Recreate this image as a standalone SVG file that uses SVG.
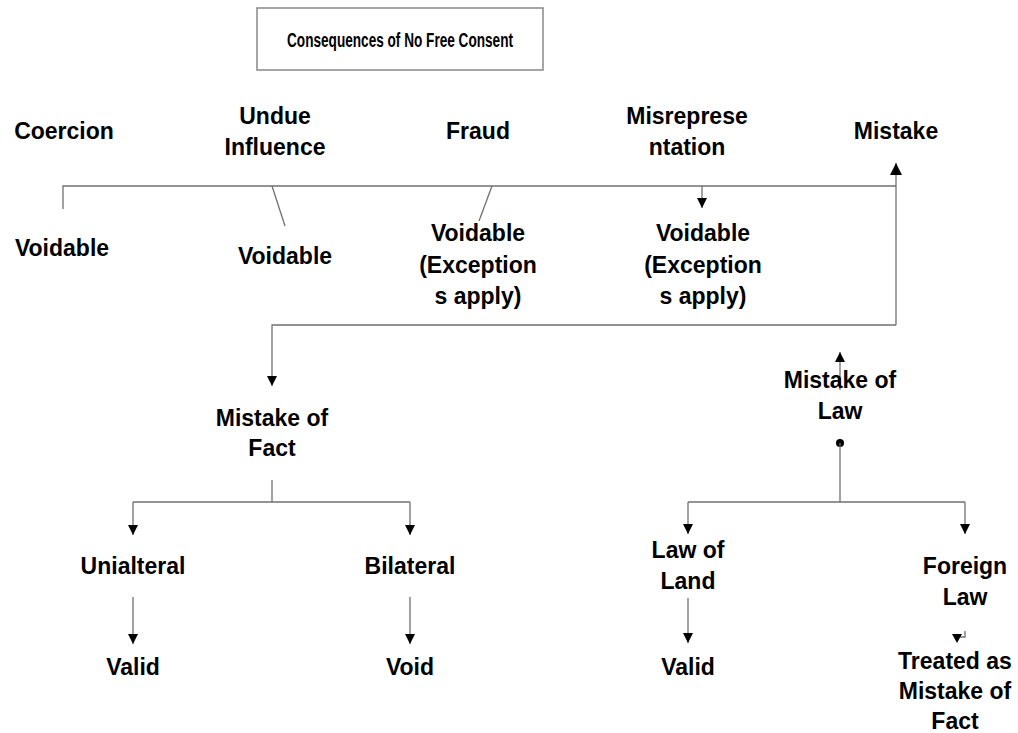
<svg xmlns="http://www.w3.org/2000/svg" width="1018" height="733" viewBox="0 0 1018 733">
<style>
text{font-family:"Liberation Sans",Arial,sans-serif;font-weight:bold;font-size:23px;fill:#000;text-anchor:middle}
.c{fill:none;stroke:#707070;stroke-width:1.3}
.t{font-size:20px}
</style>
<defs>
<marker id="ah" viewBox="0 0 10 10" refX="10" refY="5" markerWidth="11" markerHeight="10" markerUnits="userSpaceOnUse" orient="auto"><path d="M0,0 L10,5 L0,10 z" fill="#000"/></marker>
<marker id="big" viewBox="0 0 10 10" refX="10" refY="5" markerWidth="18" markerHeight="12" markerUnits="userSpaceOnUse" orient="auto"><path d="M0,0 L10,5 L0,10 z" fill="#000"/></marker>
</defs>
<rect width="1018" height="733" fill="#fff"/>
<g id="title"><rect x="257" y="8" width="286" height="62" fill="#fff" stroke="#888" stroke-width="1.5"/><text class="t" x="400" y="47" textLength="226" lengthAdjust="spacingAndGlyphs">Consequences of No Free Consent</text></g>
<g id="connectors">
<path class="c" d="M63 209 V186 H896"/>
<path class="c" d="M272 186 L285 226"/>
<path class="c" d="M492 186 L479 221"/>
<path class="c" d="M702 186 V208" marker-end="url(#ah)"/>
<path class="c" d="M896 325 V163" marker-end="url(#big)"/>
<path class="c" d="M896 325 H272 V386" marker-end="url(#ah)"/>
<path class="c" d="M272 480 V502"/>
<path class="c" d="M133 502 H410"/>
<path class="c" d="M133 502 V535" marker-end="url(#ah)"/>
<path class="c" d="M410 502 V535" marker-end="url(#ah)"/>
<path class="c" d="M133 597 V644" marker-end="url(#ah)"/>
<path class="c" d="M410 597 V644" marker-end="url(#ah)"/>
<circle cx="840" cy="443" r="4" fill="#000"/>
<path class="c" d="M840 443 V502"/>
<path class="c" d="M688 502 H965"/>
<path class="c" d="M688 502 V534" marker-end="url(#ah)"/>
<path class="c" d="M965 502 V534" marker-end="url(#ah)"/>
<path class="c" d="M840 390 V352" marker-end="url(#ah)"/>
<path class="c" d="M688 598 V643" marker-end="url(#ah)"/>
<path class="c" d="M965 631 V637 H957"/>
<path d="M952 634 L962 634 L957 643 z" fill="#000"/>
</g>
<g id="coercion"><text x="64" y="139">Coercion</text></g>
<g id="undue"><text x="275" y="124">Undue</text><text x="275" y="155">Influence</text></g>
<g id="fraud"><text x="478" y="139">Fraud</text></g>
<g id="misrep"><text x="687" y="124">Misreprese</text><text x="687" y="155">ntation</text></g>
<g id="mistake"><text x="896" y="139">Mistake</text></g>
<g id="v1"><text x="62" y="256">Voidable</text></g>
<g id="v2"><text x="285" y="264">Voidable</text></g>
<g id="v3"><text x="478" y="241">Voidable</text><text x="478" y="273">(Exception</text><text x="478" y="304">s apply)</text></g>
<g id="v4"><text x="703" y="241">Voidable</text><text x="703" y="273">(Exception</text><text x="703" y="304">s apply)</text></g>
<g id="fact"><text x="272" y="426">Mistake of</text><text x="272" y="456">Fact</text></g>
<g id="law"><text x="840" y="388">Mistake of</text><text x="840" y="419">Law</text></g>
<g id="uni"><text x="133" y="574">Unialteral</text></g>
<g id="bi"><text x="410" y="574">Bilateral</text></g>
<g id="valid1"><text x="133" y="675">Valid</text></g>
<g id="void"><text x="410" y="675">Void</text></g>
<g id="land"><text x="688" y="558">Law of</text><text x="688" y="589">Land</text></g>
<g id="foreign"><text x="965" y="574">Foreign</text><text x="965" y="605">Law</text></g>
<g id="valid2"><text x="688" y="675">Valid</text></g>
<g id="treated"><text x="955" y="669">Treated as</text><text x="955" y="699">Mistake of</text><text x="955" y="729">Fact</text></g>
</svg>
